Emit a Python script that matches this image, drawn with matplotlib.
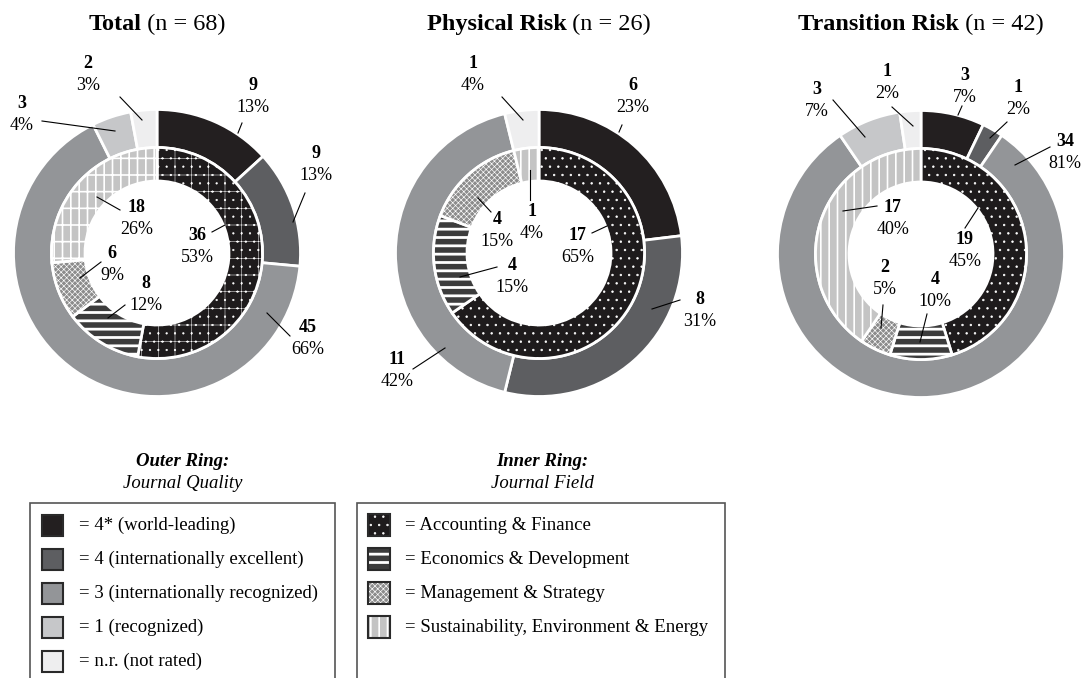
import numpy as np
import matplotlib
matplotlib.use('Agg')
from matplotlib import pyplot as plt
from matplotlib.patches import Rectangle

plt.rcParams['font.family'] = ['Liberation Serif', 'DejaVu Serif']
plt.rcParams['hatch.linewidth'] = 0.6

##################
# data
##################
panel_names = ['Total', 'Physical Risk', 'Transition Risk']
panel_n = [68, 26, 42]

quality_labels = ['4* (world-leading)', '4 (internationally excellent)',
                  '3 (internationally recognized)', '1 (recognized)', 'n.r. (not rated)']
field_labels = ['Accounting & Finance', 'Economics & Development',
                'Management & Strategy', 'Sustainability, Environment & Energy']

# outer ring: journal quality (4*, 4, 3, 1, n.r.)
quality_total = [9, 9, 45, 3, 2]
quality_physical = [6, 8, 11, 0, 1]
quality_transition = [3, 1, 34, 3, 1]

# inner ring: journal field (A&F, E&D, M&S, SEE)
field_total = [36, 8, 6, 18]
field_physical = [17, 4, 4, 1]
field_transition = [19, 4, 2, 17]

quality_data = [quality_total, quality_physical, quality_transition]
field_data = [field_total, field_physical, field_transition]

##################
# styles / layout (pixel units, y down like the image)
##################
W, H = 1085, 678
quality_colors = ['#231f20', '#5d5e61', '#939598', '#c6c7c9', '#eeeeef']
field_colors = ['#1e1b1c', '#3c3c3c', '#8c8c8c', '#c4c4c4']
field_hatch = ['..', '--', 'xxxxxx', '||']
field_hatch_lw = [0.5, 2.0, 0.45, 1.2]

centers = [(157, 253), (539, 253), (921, 254)]
r_out, r_mid, r_in = 143.5, 105.5, 72

# label layout: text centre of the count, then leader line (from wedge, to text)
outer_layout = [
    [((253, 85), (238, 133), (242, 123)),
     ((316, 153), (293, 222), (305, 193)),
     ((308, 327), (267, 313), (290, 336)),
     ((22, 103), (115, 131), (42, 121)),
     ((88, 63), (142, 120), (120, 97))],
    [((633, 86), (619, 132), (622, 125)),
     ((700, 300), (652, 309), (680, 300)),
     ((397, 360), (445, 348), (413, 369)),
     None,
     ((473, 63), (523, 120), (502, 97))],
    [((965, 75), (958, 115), (962, 106)),
     ((1018, 88), (990, 138), (1007, 122)),
     ((1065, 142), (1015, 165), (1050, 147)),
     ((817, 90), (865, 137), (833, 100)),
     ((887, 72), (913, 126), (892, 107))],
]
inner_layout = [
    [((197, 235), (225, 225), (212, 232)),
     ((146, 283), (108, 318), (125, 305)),
     ((112, 254), (80, 278), (101, 262)),
     ((137, 208), (97, 197), (120, 210))],
    [((578, 235), (607, 226), (592, 233)),
     ((512, 265), (460, 277), (497, 267)),
     ((497, 220), (478, 198), (491, 212)),
     ((532, 212), (530, 170), (530, 200))],
    [((965, 240), (978, 208), (965, 228)),
     ((935, 280), (920, 342), (927, 314)),
     ((885, 268), (881, 328), (883, 305)),
     ((893, 208), (843, 211), (877, 206))],
]

fig = plt.figure(figsize=(W / 100, H / 100), dpi=100)
ax = fig.add_axes([0, 0, 1, 1])


def yy(y):
    return H - y


def set_hlw(patch, lw):
    if hasattr(patch, 'set_hatch_linewidth'):
        patch.set_hatch_linewidth(lw)


def put_label(count, n, layout):
    (tx, ty), p0, p1 = layout
    pct = int(round(100 * count / n))
    ax.text(tx, yy(ty), str(count), ha='center', va='center', fontsize=13, fontweight='bold')
    ax.text(tx, yy(ty + 22), f'{pct}%', ha='center', va='center', fontsize=13)
    ax.plot([p0[0], p1[0]], [yy(p0[1]), yy(p1[1])], color='black', lw=0.8)


for i, name in enumerate(panel_names):
    cx, cy = centers[i]
    n = panel_n[i]
    q = quality_data[i]
    keep = [k for k in range(len(q)) if q[k] > 0]
    ax.pie([q[k] for k in keep], radius=r_out, center=(cx, yy(cy)), startangle=90,
           counterclock=False, colors=[quality_colors[k] for k in keep],
           wedgeprops=dict(width=r_out - r_mid, edgecolor='white', linewidth=2))
    hatch = list(field_hatch)
    hatch_lw = list(field_hatch_lw)
    if i == 0:
        # the total panel shows a faint grid over the patterns
        hatch[0] = '+..'
        hatch_lw[0] = 0.35
        hatch[3] = '||-'
    wedges, _ = ax.pie(field_data[i], radius=r_mid, center=(cx, yy(cy)), startangle=90,
                       counterclock=False, colors=field_colors, hatch=hatch,
                       wedgeprops=dict(width=r_mid - r_in, edgecolor='white', linewidth=2))
    for k, w in enumerate(wedges):
        set_hlw(w, hatch_lw[k])
    for k in keep:
        put_label(q[k], n, outer_layout[i][k])
    for k, v in enumerate(field_data[i]):
        put_label(v, n, inner_layout[i][k])

ax.set_xlim(0, W)
ax.set_ylim(0, H)
ax.set_aspect('auto')
ax.axis('off')

# titles: bold name + normal (n = ..)
renderer = fig.canvas.get_renderer()
for i, name in enumerate(panel_names):
    cx = centers[i][0]
    t1 = ax.text(0, yy(30), name, fontsize=17.5, fontweight='bold', ha='left', va='baseline')
    t2 = ax.text(0, yy(30), f' (n = {panel_n[i]})', fontsize=17.5, ha='left', va='baseline')
    w1 = t1.get_window_extent(renderer).width
    w2 = t2.get_window_extent(renderer).width
    x0 = cx - (w1 + w2) / 2
    t1.set_x(x0)
    t2.set_x(x0 + w1)

##################
# legends
##################
box_color = '#555555'
rows = [525, 559, 593, 627, 661]

ax.text(183, yy(462), 'Outer Ring:', fontsize=13.5, fontweight='bold', fontstyle='italic',
        ha='center', va='center')
ax.text(183, yy(484), 'Journal Quality', fontsize=13.5, fontstyle='italic', ha='center', va='center')
ax.add_patch(Rectangle((30, yy(690)), 305, 187, facecolor='none', edgecolor=box_color, lw=1.2))
for k, lab in enumerate(quality_labels):
    y = rows[k]
    ax.add_patch(Rectangle((42, yy(y + 11)), 21, 21, facecolor=quality_colors[k],
                           edgecolor='#2a2a2a', lw=1.5))
    ax.text(79, yy(y), '= ' + lab, fontsize=13.5, ha='left', va='center')

ax.text(542, yy(462), 'Inner Ring:', fontsize=13.5, fontweight='bold', fontstyle='italic',
        ha='center', va='center')
ax.text(542, yy(484), 'Journal Field', fontsize=13.5, fontstyle='italic', ha='center', va='center')
ax.add_patch(Rectangle((357, yy(690)), 368, 187, facecolor='none', edgecolor=box_color, lw=1.2))
for k, lab in enumerate(field_labels):
    y = rows[k]
    sw = Rectangle((368, yy(y + 11)), 22, 22, facecolor=field_colors[k],
                   edgecolor='white', lw=0, hatch=field_hatch[k])
    set_hlw(sw, field_hatch_lw[k])
    ax.add_patch(sw)
    ax.add_patch(Rectangle((368, yy(y + 11)), 22, 22, facecolor='none',
                           edgecolor='#2a2a2a', lw=1.5))
    ax.text(405, yy(y), '= ' + lab, fontsize=13.5, ha='left', va='center')

fig.savefig('out.png', dpi=100)
